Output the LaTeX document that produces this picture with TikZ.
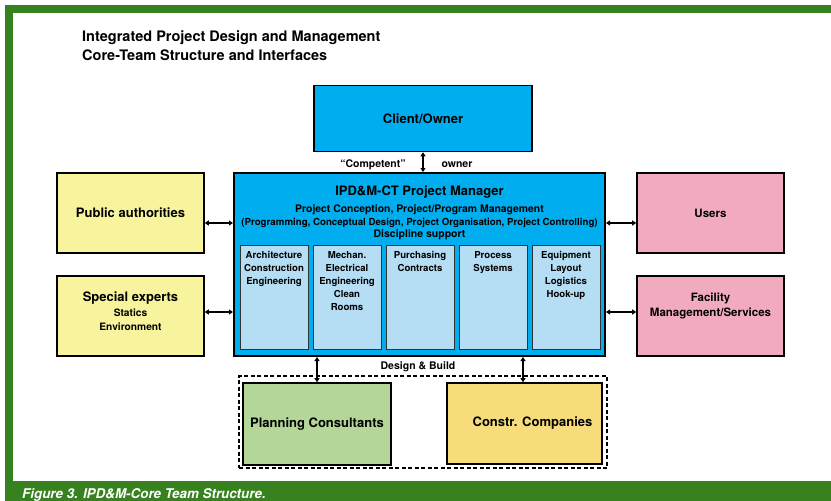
\documentclass[tikz,border=0pt]{standalone}
\usepackage{fontspec}
\setmainfont{TeX Gyre Heros}
\usetikzlibrary{positioning, shapes.geometric}
\usetikzlibrary{arrows, arrows.meta}
\definecolor{framegreen}{HTML}{37821F}
\definecolor{pmcyan}{HTML}{00AEEF}
\definecolor{cellblue}{HTML}{B5DDF3}
\definecolor{authyellow}{HTML}{F8F49E}
\definecolor{userpink}{HTML}{F2AABF}
\definecolor{plangreen}{HTML}{B4D698}
\definecolor{constrgold}{HTML}{F7DC7B}
\tikzset{
  unitbox/.style={draw=black, line width=1.6pt, inner sep=0pt, align=center,
    font=\bfseries\fontsize{13}{15}\selectfont},
  sidebox/.style={unitbox, minimum width=147pt, minimum height=80pt},
  cell/.style={draw=black!80, line width=0.9pt, fill=cellblue,
    minimum width=68pt, minimum height=104pt, inner sep=0pt},
  celltext/.style={inner sep=0pt, align=center, font=\bfseries\fontsize{9.6}{13}\selectfont},
  tag/.style={inner sep=0pt, anchor=base, font=\bfseries\fontsize{10.5}{12}\selectfont},
  link/.style={{Triangle[length=4pt,width=5pt]}-{Triangle[length=4pt,width=5pt]}, line width=1.3pt},
}

\begin{document}
\begin{tikzpicture}[x=1pt, y=-1pt]
        \useasboundingbox (0,0) rectangle (831,501);
        \fill[framegreen] (5,5) rectangle (831,13);
        \fill[framegreen] (5,5) rectangle (13,501);
        \fill[framegreen] (5,481) rectangle (831,501);
        \node[white, anchor=base west, inner sep=0pt,
          font=\bfseries\itshape\fontsize{13.4}{15}\selectfont] (caption) at (22,498)
          {Figure 3. IPD\&M-Core Team Structure.};

        \node[anchor=base west, inner sep=0pt, font=\bfseries\fontsize{14.5}{17}\selectfont]
          (title) at (82,41.5) {Integrated Project Design and Management};
        \node[anchor=base west, inner sep=0pt, font=\bfseries\fontsize{14.5}{17}\selectfont]
          (subtitle) at (82,60) {Core-Team Structure and Interfaces};

        \node[unitbox, fill=pmcyan, minimum width=218pt, minimum height=66pt]
          (client) at (423,118.5) {Client/Owner};
        \node[unitbox, fill=pmcyan, line width=2pt, minimum width=371pt, minimum height=183pt]
          (pm) at (419.5,264.5) {};
        \node[tag, font=\bfseries\fontsize{13}{15}\selectfont] (pmhead) at (419.5,195)
          {IPD\&M-CT Project Manager};
        \node[tag, font=\bfseries\fontsize{10.4}{12}\selectfont] (pmline1) at (419.5,212.7)
          {Project Conception, Project/Program Management};
        \node[tag, font=\bfseries\fontsize{9.7}{12}\selectfont] (pmline2) at (419.5,225)
          {(Programming, Conceptual Design, Project Organisation, Project Controlling)};
        \node[tag, font=\bfseries\fontsize{10.5}{12}\selectfont] (pmline3) at (419.5,237.7)
          {Discipline support};

        \foreach \i/\x/\txt in {1/274/{Architecture\\Construction\\Engineering},
            2/347/{Mechan.\\Electrical\\Engineering\\Clean\\Rooms},
            3/420/{Purchasing\\Contracts},
            4/493/{Process\\Systems},
            5/566/{Equipment\\Layout\\Logistics\\Hook-up}} {
          \node[cell] (cell\i) at (\x,297) {};
          \node[celltext, below=6.5pt of cell\i.north] (celltext\i) {\txt};
        }

        \node[sidebox, fill=authyellow] (pub) at (130.5,213) {Public authorities};
        \node[sidebox, fill=authyellow] (spec) at (130.5,316) {};
        \node[align=center, inner sep=0pt, font=\bfseries\fontsize{10.2}{14}\selectfont]
          (spectext) at (130.5,311.2)
          {{\fontsize{13}{15}\selectfont Special experts}\\[1.5pt]Statics\\Environment};
        \node[sidebox, fill=userpink, font=\bfseries\fontsize{11.5}{14}\selectfont]
          (users) at (710.5,213) {Users};
        \node[sidebox, fill=userpink] (fac) at (710.5,316) {};
        \node[align=center, inner sep=0pt, font=\bfseries\fontsize{11.5}{15.7}\selectfont]
          (factext) at (710.5,305.9) {Facility\\Management/Services};

        \node[draw, line width=1.2pt, dash pattern=on 4pt off 2.5pt,
          minimum width=368pt, minimum height=92pt] (team) at (423,422) {};
        \node[unitbox, fill=plangreen, minimum width=148pt, minimum height=82pt]
          (plan) at (317,424) {Planning Consultants};
        \node[unitbox, fill=constrgold, minimum width=155pt, minimum height=81pt]
          (constr) at (524.5,423.5) {\hspace{16pt}Constr. Companies};

        \draw[link] (client.south) -- (client.south |- pm.north);
        \node[tag] (competent) at (373,167) {“Competent”};
        \node[tag] (owner) at (457,167) {owner};

        \draw[link] ([yshift=-10pt]pub.east) -- ([yshift=-10pt]pub.east -| pm.west);
        \draw[link] ([yshift=4pt]spec.east) -- ([yshift=4pt]spec.east -| pm.west);
        \draw[link] ([yshift=-10pt]users.west) -- ([yshift=-10pt]users.west -| pm.east);
        \draw[link] ([yshift=4pt]fac.west) -- ([yshift=4pt]fac.west -| pm.east);

        \draw[link] (plan.north) -- (plan.north |- pm.south);
        \draw[link] ([xshift=-1.5pt]constr.north) -- ([xshift=-1.5pt]constr.north |- pm.south);
        \node[tag] (build) at (418,369) {Design \& Build};
\end{tikzpicture}
\end{document}
